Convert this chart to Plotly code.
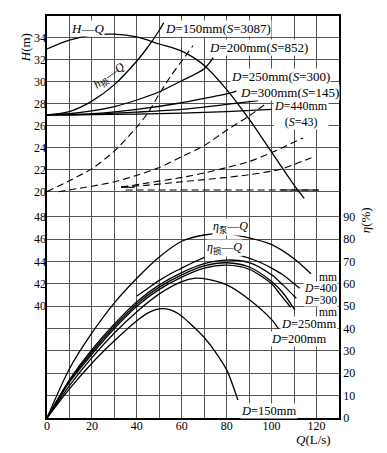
import plotly.graph_objects as go

# ---------------- data ----------------
# upper panel: head H (m) vs flow Q (L/s)
Q_HQ = [0, 10, 20, 30, 40, 50, 60, 70, 80, 90, 100, 110, 114.5]
H_HQ = [33.0, 33.8, 34.25, 34.35, 34.1, 33.45, 32.8, 31.5, 29.3, 26.6, 23.6, 20.6, 19.4]

Q_D150 = [0, 10, 20, 30, 40, 45, 50, 52]
H_D150 = [27.0, 27.3, 28.25, 29.75, 31.9, 33.2, 34.7, 35.4]
Q_D200 = [0, 10, 20, 30, 40, 50, 60, 70, 74]
H_D200 = [27.0, 27.1, 27.35, 27.75, 28.35, 29.1, 30.1, 31.2, 32.2]
Q_D250 = [0, 20, 40, 60, 70, 80, 84.3]
H_D250 = [27.0, 27.1, 27.5, 28.1, 28.5, 28.9, 29.15]
Q_D300 = [0, 20, 40, 60, 80, 94]
H_D300 = [27.0, 27.05, 27.25, 27.5, 27.95, 28.3]
Q_D440 = [0, 20, 40, 60, 80, 100]
H_D440 = [27.0, 27.02, 27.07, 27.15, 27.3, 27.5]

Q_dA = [0, 10, 20, 30, 40, 45, 50, 55, 60, 65]
H_dA = [20.0, 21.0, 22.1, 23.7, 25.9, 27.2, 28.9, 30.5, 31.9, 33.3]
Q_dB = [5, 20, 30, 40, 50, 60, 70, 80, 90, 98]
H_dB = [20.0, 20.5, 20.9, 21.5, 22.2, 23.2, 24.2, 25.6, 26.9, 28.1]
Q_dC = [33, 45, 60, 70, 80, 90, 101, 114]
H_dC = [20.4, 20.8, 21.3, 21.7, 22.2, 22.75, 23.65, 24.9]
Q_dD = [33, 45, 60, 70, 80, 90, 104, 117.7]
H_dD = [20.45, 20.6, 20.9, 21.1, 21.3, 21.55, 22.05, 23.1]
Q_dE = [35, 121]
H_dE = [20.15, 20.15]
Q_sE = [104, 121]
H_sE = [20.15, 20.15]
Q_short = [33, 39]
H_short = [20.4, 20.4]

# lower panel: efficiency eta (%) vs Q (L/s)
Q_pump = [0, 10, 20, 30, 40, 50, 60, 70, 80, 90, 100, 110, 117.5]
E_pump = [0, 22, 38, 51.5, 62.5, 72, 79, 81.8, 82.3, 80.5, 77.5, 71.2, 64.5]
Q_loss_a = [40, 45, 50, 55, 60, 65, 70]
E_loss_a = [54.5, 58, 61.5, 64.5, 67, 69.5, 71.8]
Q_loss_b = [85, 90, 95, 100, 105, 110, 112.5]
E_loss_b = [72.8, 71.5, 69.5, 67, 64, 60, 58]
Q_K1 = [0, 10, 20, 30, 40, 50, 60, 70, 80, 90, 100, 105, 111]
E_K1 = [0, 17, 30.5, 42, 52, 59.5, 65, 69, 70.6, 69.5, 64, 59.5, 53.5]
Q_K2 = [0, 10, 20, 30, 40, 50, 60, 70, 80, 90, 100, 105, 110.3]
E_K2 = [0, 16.5, 29.5, 41, 51, 58.5, 64, 68, 69.4, 67.5, 61, 56, 48.3]
Q_K3 = [0, 10, 20, 30, 40, 50, 60, 70, 80, 90, 100, 104, 108.5]
E_K3 = [0, 16, 28.5, 40, 50, 57.5, 63, 67, 68.3, 66.5, 60, 55, 49.5]
Q_D200e = [0, 10, 20, 30, 40, 50, 60, 66, 70, 80, 90, 100, 103]
E_D200e = [0, 14.5, 27, 38, 47.5, 55.5, 61, 62.5, 62.3, 59.5, 53, 44, 40]
Q_D150e = [0, 10, 20, 30, 40, 45, 50, 55, 60, 65, 70, 75, 80, 85]
E_D150e = [0, 13, 24.5, 34.5, 43.5, 47, 48.8, 48.3, 45.5, 41, 36, 29.5, 21.5, 8]

# tick labels
Q_ticks = [0, 10, 20, 30, 40, 50, 60, 70, 80, 90, 100, 110, 120, 130]
Q_tick_text = ['0', '', '20', '', '40', '', '60', '', '80', '', '100', '', '120', '']
H_up_ticks = [20, 22, 24, 26, 28, 30, 32, 34, 36]
H_up_text = ['20', '22', '24', '26', '28', '30', '32', '34', '']
H_low_ticks = [40, 42, 44, 46, 48]
H_low_text = ['40', '42', '44', '46', '48']
E_ticks = [0, 10, 20, 30, 40, 50, 60, 70, 80, 90]
E_text = ['0', '10', '20', '30', '40', '50', '60', '70', '80', '90']

# ---------------- figure ----------------
FONT = 'Liberation Serif, Noto Sans CJK SC, serif'
ETA_TOP = 179.7
GRID = '#555555'

fig = go.Figure()


def add(q, v, axis, dash='solid', width=1.3):
    fig.add_trace(go.Scatter(
        x=q, y=v, yaxis=axis, xaxis='x', mode='lines',
        line=dict(color='black', width=width, dash=dash, shape='spline', smoothing=0.8),
        hoverinfo='skip', showlegend=False))


for q, h in [(Q_HQ, H_HQ), (Q_D150, H_D150), (Q_D200, H_D200), (Q_D250, H_D250),
             (Q_D300, H_D300), (Q_D440, H_D440)]:
    add(q, h, 'y2')
for q, h in [(Q_dA, H_dA), (Q_dB, H_dB), (Q_dC, H_dC), (Q_dD, H_dD), (Q_dE, H_dE)]:
    add(q, h, 'y2', dash='7px,4px', width=1.1)
add(Q_sE, H_sE, 'y2', width=1.1)
add(Q_short, H_short, 'y2', width=1.1)

for q, e in [(Q_pump, E_pump), (Q_loss_a, E_loss_a), (Q_loss_b, E_loss_b), (Q_K1, E_K1),
             (Q_K2, E_K2), (Q_K3, E_K3), (Q_D200e, E_D200e), (Q_D150e, E_D150e)]:
    add(q, e, 'y')

# empty trace so the lower-left head axis is drawn
fig.add_trace(go.Scatter(x=[None], y=[None], yaxis='y3', xaxis='x', mode='lines',
                         hoverinfo='skip', showlegend=False))

axis_common = dict(showline=False, zeroline=False, ticks='', tickfont=dict(size=12, family=FONT, color='black'))

fig.update_layout(
    width=387, height=453,
    margin=dict(l=47, r=48, t=16, b=35, autoexpand=False),
    paper_bgcolor='white', plot_bgcolor='white',
    font=dict(family=FONT, size=12, color='black'),
    xaxis=dict(range=[0, 130], tickmode='array', tickvals=Q_ticks, ticktext=Q_tick_text,
               showgrid=True, gridcolor=GRID, gridwidth=0.8,
               showline=True, linecolor='black', linewidth=1.5, mirror=True,
               zeroline=False, ticks='', anchor='y', ticklabelstandoff=-4,
               tickfont=dict(size=12, family=FONT, color='black')),
    yaxis=dict(range=[0, ETA_TOP], side='right', tickmode='array', tickvals=E_ticks, ticktext=E_text,
               showgrid=True, gridcolor=GRID, gridwidth=0.8,
               showline=True, linecolor='black', linewidth=1.5, mirror=True,
               zeroline=False, ticks='', tickfont=dict(size=12, family=FONT, color='black')),
    yaxis2=dict(range=[-0.61, 36.0], overlaying='y', side='left', anchor='x',
                tickmode='array', tickvals=H_up_ticks, ticktext=H_up_text,
                showgrid=True, gridcolor=GRID, gridwidth=0.8, **axis_common),
    yaxis3=dict(range=[30, 30 + ETA_TOP / 5], overlaying='y', side='left', anchor='x',
                tickmode='array', tickvals=H_low_ticks, ticktext=H_low_text,
                showgrid=False, **axis_common),
)

ann = []


def label(text, x, y, yref, xanchor='left', size=13, angle=0, bg='white', align='left'):
    ann.append(dict(text=text, x=x, y=y, xref='x', yref=yref, xanchor=xanchor, yanchor='middle',
                    showarrow=False, textangle=angle, bgcolor=bg, borderpad=0, align=align,
                    font=dict(size=size, family=FONT, color='black')))


# upper labels
label('<i>H</i>—<i>Q</i>', 18.1, 34.9, 'y2', xanchor='center')
label('<i>h</i><sub>损</sub>—<i>Q</i>', 28.0, 30.5, 'y2', xanchor='center', size=12, angle=-36, bg='rgba(0,0,0,0)')
label('<i>D</i>=150mm(<i>S</i>=3087)', 52.3, 34.9, 'y2')
label('<i>D</i>=200mm(<i>S</i>=852)', 71.8, 33.1, 'y2')
label('<i>D</i>=250mm(<i>S</i>=300)', 81.5, 30.45, 'y2')
label('<i>D</i>=300mm(<i>S</i>=145)', 85.5, 29.0, 'y2')
label('<i>D</i>=440mm<br>(<i>S</i>=43)', 100.5, 27.05, 'y2', size=12, align='center')

# lower labels
label('<i>η</i><sub>泵</sub>—<i>Q</i>', 81.5, 85.3, 'y', xanchor='center', size=12)
label('<i>η</i><sub>损</sub>—<i>Q</i>', 78.8, 76.0, 'y', xanchor='center', size=12)
label('mm', 129.6, 63.2, 'y', xanchor='right', size=11.5)
label('<i>D</i>=400', 129.6, 57.9, 'y', xanchor='right', size=11.5)
label('<i>D</i>=300', 129.6, 52.6, 'y', xanchor='right', size=11.5)
label('mm', 129.6, 47.4, 'y', xanchor='right', size=11.5)
label('<i>D</i>=250mm', 129.6, 42.0, 'y', xanchor='right', size=12.5)
label('<i>D</i>=200mm', 99.2, 35.3, 'y', size=12.5)
label('<i>D</i>=150mm', 85.8, 3.2, 'y', size=12.5)

# axis titles
ann.append(dict(text='<i>H</i>(m)', x=-0.075, y=0.92, xref='paper', yref='paper', showarrow=False,
                xanchor='center', yanchor='middle',
                textangle=-90, font=dict(size=13, family=FONT, color='black')))
ann.append(dict(text='<i>η</i>(%)', x=1.09, y=0.4925, xref='paper', yref='paper', showarrow=False,
                xanchor='center', yanchor='middle',
                textangle=-90, font=dict(size=13, family=FONT, color='black')))
ann.append(dict(text='<i>Q</i>(L/s)', x=0.911, y=-0.0547, xref='paper', yref='paper', showarrow=False,
                xanchor='center', yanchor='middle',
                font=dict(size=13, family=FONT, color='black')))

fig.update_layout(annotations=ann)

fig.write_html('out.html', config={'displayModeBar': False})

# remove the default 8px page margin so the figure sits at the window's top-left corner
with open('out.html', 'r', encoding='utf-8') as f:
    html = f.read()
html = html.replace('<head>', '<head><style>html,body{margin:0;padding:0;overflow:hidden;}</style>', 1)
with open('out.html', 'w', encoding='utf-8') as f:
    f.write(html)
